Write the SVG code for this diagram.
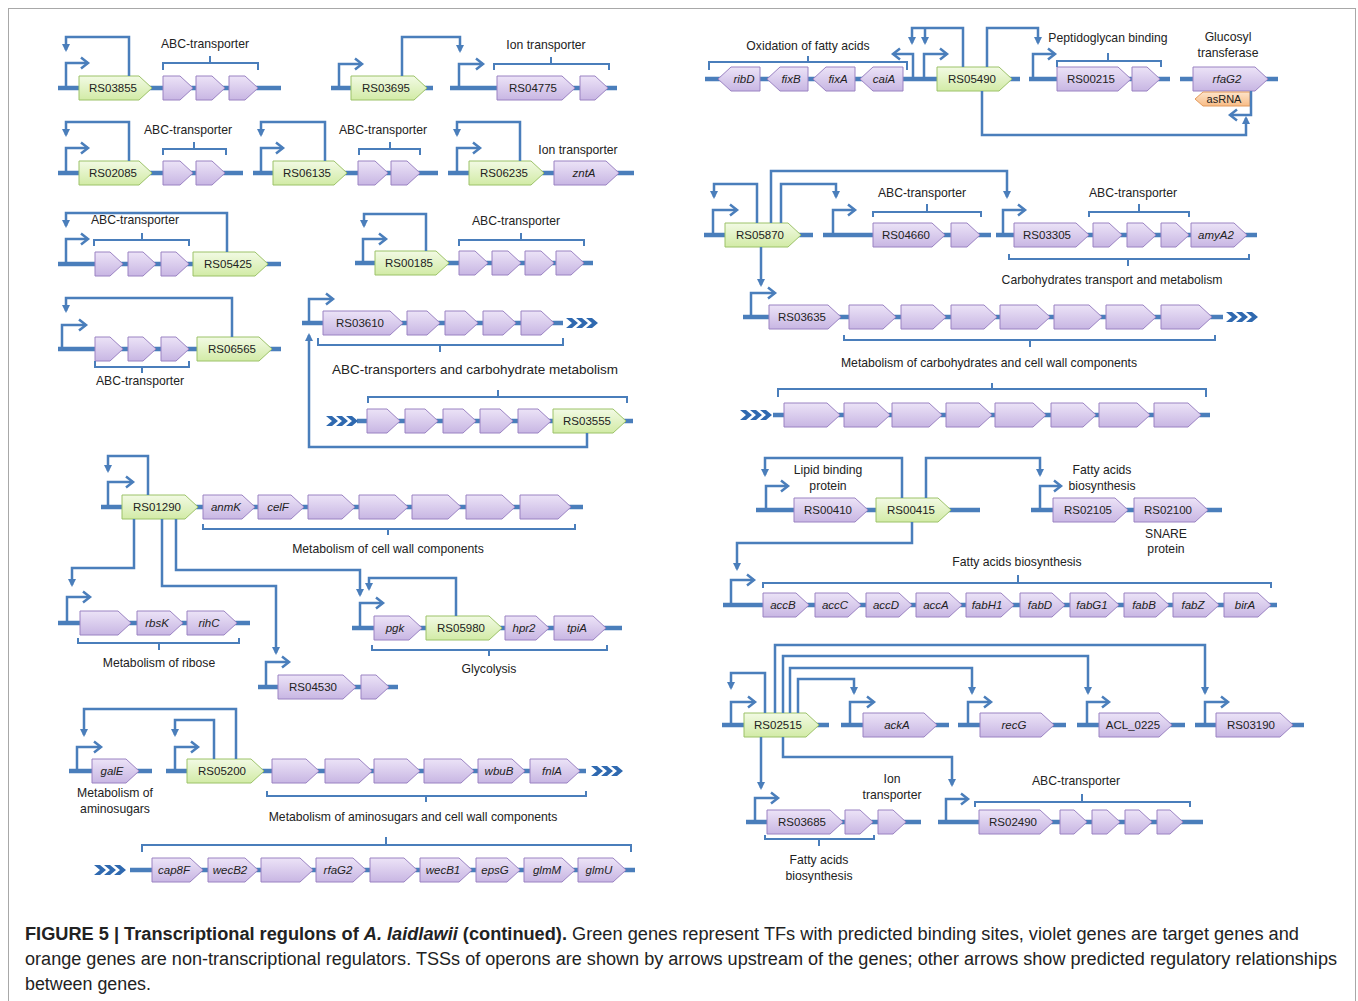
<svg xmlns="http://www.w3.org/2000/svg" width="1358" height="1001" viewBox="0 0 1358 1001">
<defs>
<linearGradient id="gv" x1="0" y1="0" x2="0" y2="1"><stop offset="0" stop-color="#ece3f7"/><stop offset="1" stop-color="#c8b6e3"/></linearGradient>
<linearGradient id="gg" x1="0" y1="0" x2="0" y2="1"><stop offset="0" stop-color="#f2fae4"/><stop offset="1" stop-color="#d2eba6"/></linearGradient>
<linearGradient id="go" x1="0" y1="0" x2="0" y2="1"><stop offset="0" stop-color="#fde4ca"/><stop offset="1" stop-color="#f8bc86"/></linearGradient>
<marker id="tss" markerUnits="userSpaceOnUse" markerWidth="14" markerHeight="14" refX="10" refY="7" orient="auto" overflow="visible"><path d="M3,1.5 L10,7 L3,12.5" fill="none" stroke="#4a7ebb" stroke-width="2.5"/></marker>
<marker id="reg" markerUnits="userSpaceOnUse" markerWidth="10" markerHeight="10" refX="6" refY="4" orient="auto" overflow="visible"><path d="M0,0 L8,4 L0,8 Z" fill="#4a7ebb"/></marker>
<g id="chev"><path d="M0,-5h6l6,5l-6,5h-6l6,-5z M10,-5h6l6,5l-6,5h-6l6,-5z M20,-5h6l6,5l-6,5h-6l6,-5z" fill="#2f69b0"/></g>
</defs>
<style>
.bb{stroke:#4a7ebb;stroke-width:4.5;fill:none}
.ln{stroke:#4a7ebb;stroke-width:2.5;fill:none;marker-end:url(#reg)}
.ts{stroke:#4a7ebb;stroke-width:2.5;fill:none;marker-end:url(#tss)}
.br{stroke:#4a7ebb;stroke-width:2;fill:none}
.v{fill:url(#gv);stroke:#9a82c2;stroke-width:1}
.g{fill:url(#gg);stroke:#9cc268;stroke-width:1}
.o{fill:url(#go);stroke:#e39a5c;stroke-width:1}
text{font-family:"Liberation Sans",Arial,sans-serif;font-size:12.2px;fill:#222;text-anchor:middle}
#genes text{font-size:11.5px}
.i{font-style:italic}
.big{font-size:13.5px}
.cap{font-size:18px;text-anchor:start;fill:#222}
</style>
<rect x="8.5" y="8.5" width="1347" height="1010" fill="#fff" stroke="#a8a8a8" stroke-width="1"/>

<g id="backbones">
<path class="bb" d="M58,88H281 M331,88H433 M450,88H617 M58,173H243 M253,173H438 M448,173H634 M58,264H281 M58,349H281 M355,263H593 M302,323H563 M357,421H633"/>
<path class="bb" d="M705,79H1020 M1029,79H1170 M1180,79H1278 M704,235H813 M823,235H991 M996,235H1257 M743,317H1223 M773,415H1210 M756,510H980 M1031,510H1222 M723,605H1277"/>
<path class="bb" d="M722,725H829 M841,725H949 M958,725H1066 M1077,725H1185 M1195,725H1304 M746,822H921 M938,822H1203"/>
<path class="bb" d="M101,507H583 M58,623H250 M258,687H398 M352,628H622 M69,771H152 M166,771H586 M130,870H635"/>
<use href="#chev" transform="translate(566,323)"/>
<use href="#chev" transform="translate(326,421)"/>
<use href="#chev" transform="translate(1226,317)"/>
<use href="#chev" transform="translate(740,415)"/>
<use href="#chev" transform="translate(591,771)"/>
<use href="#chev" transform="translate(94,870)"/>
</g>

<g id="genes">
<g id="RS03855"><path class="g" d="M79,76h60l13,12l-13,12h-60z"/><text x="113" y="92">RS03855</text></g>
<g id="a1"><path class="v" d="M163,76h17l13,12l-13,12h-17z"/></g>
<g id="a2"><path class="v" d="M196,76h16l13,12l-13,12h-16z"/></g>
<g id="a3"><path class="v" d="M229,76h16l13,12l-13,12h-16z"/></g>

<g id="RS03695"><path class="g" d="M351,76h63l13,12l-13,12h-63z"/><text x="386" y="92">RS03695</text></g>
<g id="RS04775"><path class="v" d="M497,76h65l13,12l-13,12h-65z"/><text x="533" y="92">RS04775</text></g>
<g id="b1"><path class="v" d="M580,76h15l13,12l-13,12h-15z"/></g>

<g id="RS02085"><path class="g" d="M79,161h60l13,12l-13,12h-60z"/><text x="113" y="177">RS02085</text></g>
<g id="c1"><path class="v" d="M163,161h17l13,12l-13,12h-17z"/></g>
<g id="c2"><path class="v" d="M196,161h16l13,12l-13,12h-16z"/></g>

<g id="RS06135"><path class="g" d="M273,161h61l13,12l-13,12h-61z"/><text x="307" y="177">RS06135</text></g>
<g id="d1"><path class="v" d="M358,161h17l13,12l-13,12h-17z"/></g>
<g id="d2"><path class="v" d="M391,161h16l13,12l-13,12h-16z"/></g>

<g id="RS06235"><path class="g" d="M469,161h62l13,12l-13,12h-62z"/><text x="504" y="177">RS06235</text></g>
<g id="zntA"><path class="v" d="M554,161h52l13,12l-13,12h-52z"/><text class="i" x="584" y="177">zntA</text></g>

<g id="f1"><path class="v" d="M95,252h15l13,12l-13,12h-15z"/></g>
<g id="f2"><path class="v" d="M128,252h15l13,12l-13,12h-15z"/></g>
<g id="f3"><path class="v" d="M161,252h15l13,12l-13,12h-15z"/></g>
<g id="RS05425"><path class="g" d="M193,252h62l13,12l-13,12h-62z"/><text x="228" y="268">RS05425</text></g>

<g id="g1"><path class="v" d="M95,337h15l13,12l-13,12h-15z"/></g>
<g id="g2"><path class="v" d="M128,337h15l13,12l-13,12h-15z"/></g>
<g id="g3"><path class="v" d="M161,337h15l13,12l-13,12h-15z"/></g>
<g id="RS06565"><path class="g" d="M197,337h62l13,12l-13,12h-62z"/><text x="232" y="353">RS06565</text></g>

<g id="RS00185"><path class="g" d="M375,251h61l13,12l-13,12h-61z"/><text x="409" y="267">RS00185</text></g>
<g id="h1"><path class="v" d="M459,251h16l13,12l-13,12h-16z"/></g>
<g id="h2"><path class="v" d="M492,251h16l13,12l-13,12h-16z"/></g>
<g id="h3"><path class="v" d="M525,251h16l13,12l-13,12h-16z"/></g>
<g id="h4"><path class="v" d="M556,251h15l13,12l-13,12h-15z"/></g>

<g id="RS03610"><path class="v" d="M323,311h67l13,12l-13,12h-67z"/><text x="360" y="327">RS03610</text></g>
<g id="i1"><path class="v" d="M407,311h20l13,12l-13,12h-20z"/></g>
<g id="i2"><path class="v" d="M445,311h20l13,12l-13,12h-20z"/></g>
<g id="i3"><path class="v" d="M483,311h20l13,12l-13,12h-20z"/></g>
<g id="i4"><path class="v" d="M521,311h20l13,12l-13,12h-20z"/></g>

<g id="j1"><path class="v" d="M367,409h20l13,12l-13,12h-20z"/></g>
<g id="j2"><path class="v" d="M405,409h20l13,12l-13,12h-20z"/></g>
<g id="j3"><path class="v" d="M443,409h20l13,12l-13,12h-20z"/></g>
<g id="j4"><path class="v" d="M480,409h20l13,12l-13,12h-20z"/></g>
<g id="j5"><path class="v" d="M518,409h20l13,12l-13,12h-20z"/></g>
<g id="RS03555"><path class="g" d="M553,409h60l13,12l-13,12h-60z"/><text x="587" y="425">RS03555</text></g>

<g id="ribD"><path class="v" d="M760,67h-29l-13,12l13,12h29z"/><text class="i" x="744" y="83">ribD</text></g>
<g id="fixB"><path class="v" d="M808,67h-28l-13,12l13,12h28z"/><text class="i" x="791" y="83">fixB</text></g>
<g id="fixA"><path class="v" d="M855,67h-29l-13,12l13,12h29z"/><text class="i" x="838" y="83">fixA</text></g>
<g id="caiA"><path class="v" d="M903,67h-30l-13,12l13,12h30z"/><text class="i" x="884" y="83">caiA</text></g>
<g id="RS05490"><path class="g" d="M937,67h62l13,12l-13,12h-62z"/><text x="972" y="83">RS05490</text></g>
<g id="RS00215"><path class="v" d="M1057,67h61l13,12l-13,12h-61z"/><text x="1091" y="83">RS00215</text></g>
<g id="k1"><path class="v" d="M1132,67h15l13,12l-13,12h-15z"/></g>
<g id="rfaG2a"><path class="v" d="M1193,67h62l13,12l-13,12h-62z"/><text class="i" x="1227" y="83">rfaG2</text></g>
<g id="asRNA"><path class="o" d="M1250,92h-47l-8,7l8,7h47z"/><text x="1224" y="103" style="font-size:11px">asRNA</text></g>

<g id="RS05870"><path class="g" d="M725,223h63l13,12l-13,12h-63z"/><text x="760" y="239">RS05870</text></g>
<g id="RS04660"><path class="v" d="M873,223h59l13,12l-13,12h-59z"/><text x="906" y="239">RS04660</text></g>
<g id="l1"><path class="v" d="M951,223h16l13,12l-13,12h-16z"/></g>
<g id="RS03305"><path class="v" d="M1014,223h62l13,12l-13,12h-62z"/><text x="1047" y="239">RS03305</text></g>
<g id="l2"><path class="v" d="M1093,223h16l13,12l-13,12h-16z"/></g>
<g id="l3"><path class="v" d="M1127,223h16l13,12l-13,12h-16z"/></g>
<g id="l4"><path class="v" d="M1161,223h15l13,12l-13,12h-15z"/></g>
<g id="amyA2"><path class="v" d="M1191,223h43l13,12l-13,12h-43z"/><text class="i" x="1216" y="239">amyA2</text></g>

<g id="RS03635"><path class="v" d="M769,305h59l13,12l-13,12h-59z"/><text x="802" y="321">RS03635</text></g>
<g id="m1"><path class="v" d="M849,305h34l13,12l-13,12h-34z"/></g>
<g id="m2"><path class="v" d="M901,305h32l13,12l-13,12h-32z"/></g>
<g id="m3"><path class="v" d="M951,305h33l13,12l-13,12h-33z"/></g>
<g id="m4"><path class="v" d="M1000,305h37l13,12l-13,12h-37z"/></g>
<g id="m5"><path class="v" d="M1054,305h35l13,12l-13,12h-35z"/></g>
<g id="m6"><path class="v" d="M1106,305h37l13,12l-13,12h-37z"/></g>
<g id="m7"><path class="v" d="M1161,305h38l13,12l-13,12h-38z"/></g>

<g id="n1"><path class="v" d="M784,403h43l13,12l-13,12h-43z"/></g>
<g id="n2"><path class="v" d="M844,403h33l13,12l-13,12h-33z"/></g>
<g id="n3"><path class="v" d="M892,403h37l13,12l-13,12h-37z"/></g>
<g id="n4"><path class="v" d="M946,403h33l13,12l-13,12h-33z"/></g>
<g id="n5"><path class="v" d="M995,403h38l13,12l-13,12h-38z"/></g>
<g id="n6"><path class="v" d="M1051,403h32l13,12l-13,12h-32z"/></g>
<g id="n7"><path class="v" d="M1099,403h38l13,12l-13,12h-38z"/></g>
<g id="n8"><path class="v" d="M1154,403h34l13,12l-13,12h-34z"/></g>

<g id="RS00410"><path class="v" d="M794,498h61l13,12l-13,12h-61z"/><text x="828" y="514">RS00410</text></g>
<g id="RS00415"><path class="g" d="M876,498h62l13,12l-13,12h-62z"/><text x="911" y="514">RS00415</text></g>
<g id="RS02105"><path class="v" d="M1053,498h62l13,12l-13,12h-62z"/><text x="1088" y="514">RS02105</text></g>
<g id="RS02100"><path class="v" d="M1134,498h61l13,12l-13,12h-61z"/><text x="1168" y="514">RS02100</text></g>

<g id="accB"><path class="v" d="M763,593h33l13,12l-13,12h-33z"/><text class="i" x="783" y="609">accB</text></g>
<g id="accC"><path class="v" d="M815,593h33l13,12l-13,12h-33z"/><text class="i" x="835" y="609">accC</text></g>
<g id="accD"><path class="v" d="M866,593h33l13,12l-13,12h-33z"/><text class="i" x="886" y="609">accD</text></g>
<g id="accA"><path class="v" d="M916,593h33l13,12l-13,12h-33z"/><text class="i" x="936" y="609">accA</text></g>
<g id="fabH1"><path class="v" d="M966,593h35l13,12l-13,12h-35z"/><text class="i" x="987" y="609">fabH1</text></g>
<g id="fabD"><path class="v" d="M1020,593h32l13,12l-13,12h-32z"/><text class="i" x="1040" y="609">fabD</text></g>
<g id="fabG1"><path class="v" d="M1070,593h36l13,12l-13,12h-36z"/><text class="i" x="1092" y="609">fabG1</text></g>
<g id="fabB"><path class="v" d="M1124,593h32l13,12l-13,12h-32z"/><text class="i" x="1144" y="609">fabB</text></g>
<g id="fabZ"><path class="v" d="M1173,593h33l13,12l-13,12h-33z"/><text class="i" x="1193" y="609">fabZ</text></g>
<g id="birA"><path class="v" d="M1224,593h34l13,12l-13,12h-34z"/><text class="i" x="1245" y="609">birA</text></g>

<g id="RS02515"><path class="g" d="M744,713h62l13,12l-13,12h-62z"/><text x="778" y="729">RS02515</text></g>
<g id="ackA"><path class="v" d="M863,713h61l13,12l-13,12h-61z"/><text class="i" x="897" y="729">ackA</text></g>
<g id="recG"><path class="v" d="M980,713h61l13,12l-13,12h-61z"/><text class="i" x="1014" y="729">recG</text></g>
<g id="ACL_0225"><path class="v" d="M1099,713h60l13,12l-13,12h-60z"/><text x="1133" y="729">ACL_0225</text></g>
<g id="RS03190"><path class="v" d="M1216,713h64l13,12l-13,12h-64z"/><text x="1251" y="729">RS03190</text></g>

<g id="RS03685"><path class="v" d="M767,810h63l13,12l-13,12h-63z"/><text x="802" y="826">RS03685</text></g>
<g id="r1"><path class="v" d="M845,810h15l13,12l-13,12h-15z"/></g>
<g id="r2"><path class="v" d="M878,810h15l13,12l-13,12h-15z"/></g>
<g id="RS02490"><path class="v" d="M979,810h61l13,12l-13,12h-61z"/><text x="1013" y="826">RS02490</text></g>
<g id="s1"><path class="v" d="M1060,810h14l13,12l-13,12h-14z"/></g>
<g id="s2"><path class="v" d="M1092,810h15l13,12l-13,12h-15z"/></g>
<g id="s3"><path class="v" d="M1125,810h14l13,12l-13,12h-14z"/></g>
<g id="s4"><path class="v" d="M1157,810h13l13,12l-13,12h-13z"/></g>

<g id="RS01290"><path class="g" d="M122,495h63l13,12l-13,12h-63z"/><text x="157" y="511">RS01290</text></g>
<g id="anmK"><path class="v" d="M203,495h39l13,12l-13,12h-39z"/><text class="i" x="226" y="511">anmK</text></g>
<g id="celF"><path class="v" d="M258,495h33l13,12l-13,12h-33z"/><text class="i" x="278" y="511">celF</text></g>
<g id="t1"><path class="v" d="M308,495h34l13,12l-13,12h-34z"/></g>
<g id="t2"><path class="v" d="M359,495h36l13,12l-13,12h-36z"/></g>
<g id="t3"><path class="v" d="M412,495h36l13,12l-13,12h-36z"/></g>
<g id="t4"><path class="v" d="M466,495h36l13,12l-13,12h-36z"/></g>
<g id="t5"><path class="v" d="M520,495h38l13,12l-13,12h-38z"/></g>

<g id="u1"><path class="v" d="M80,611h38l13,12l-13,12h-38z"/></g>
<g id="rbsK"><path class="v" d="M137,611h33l13,12l-13,12h-33z"/><text class="i" x="157" y="627">rbsK</text></g>
<g id="rihC"><path class="v" d="M187,611h37l13,12l-13,12h-37z"/><text class="i" x="209" y="627">rihC</text></g>

<g id="RS04530"><path class="v" d="M278,675h65l13,12l-13,12h-65z"/><text x="313" y="691">RS04530</text></g>
<g id="v1"><path class="v" d="M361,675h15l13,12l-13,12h-15z"/></g>

<g id="pgk"><path class="v" d="M374,616h35l13,12l-13,12h-35z"/><text class="i" x="395" y="632">pgk</text></g>
<g id="RS05980"><path class="g" d="M426,616h63l13,12l-13,12h-63z"/><text x="461" y="632">RS05980</text></g>
<g id="hpr2"><path class="v" d="M505,616h31l13,12l-13,12h-31z"/><text class="i" x="524" y="632">hpr2</text></g>
<g id="tpiA"><path class="v" d="M554,616h39l13,12l-13,12h-39z"/><text class="i" x="577" y="632">tpiA</text></g>

<g id="galE"><path class="v" d="M92,759h34l13,12l-13,12h-34z"/><text class="i" x="112" y="775">galE</text></g>
<g id="RS05200"><path class="g" d="M187,759h64l13,12l-13,12h-64z"/><text x="222" y="775">RS05200</text></g>
<g id="y1"><path class="v" d="M272,759h34l13,12l-13,12h-34z"/></g>
<g id="y2"><path class="v" d="M325,759h34l13,12l-13,12h-34z"/></g>
<g id="y3"><path class="v" d="M374,759h33l13,12l-13,12h-33z"/></g>
<g id="y4"><path class="v" d="M424,759h37l13,12l-13,12h-37z"/></g>
<g id="wbuB"><path class="v" d="M478,759h34l13,12l-13,12h-34z"/><text class="i" x="499" y="775">wbuB</text></g>
<g id="fnlA"><path class="v" d="M530,759h37l13,12l-13,12h-37z"/><text class="i" x="552" y="775">fnlA</text></g>

<g id="cap8F"><path class="v" d="M152,858h38l13,12l-13,12h-38z"/><text class="i" x="174" y="874">cap8F</text></g>
<g id="wecB2"><path class="v" d="M208,858h37l13,12l-13,12h-37z"/><text class="i" x="230" y="874">wecB2</text></g>
<g id="z1"><path class="v" d="M261,858h39l13,12l-13,12h-39z"/></g>
<g id="rfaG2b"><path class="v" d="M316,858h37l13,12l-13,12h-37z"/><text class="i" x="338" y="874">rfaG2</text></g>
<g id="z2"><path class="v" d="M370,858h34l13,12l-13,12h-34z"/></g>
<g id="wecB1"><path class="v" d="M420,858h39l13,12l-13,12h-39z"/><text class="i" x="443" y="874">wecB1</text></g>
<g id="epsG"><path class="v" d="M476,858h31l13,12l-13,12h-31z"/><text class="i" x="495" y="874">epsG</text></g>
<g id="glmM"><path class="v" d="M524,858h38l13,12l-13,12h-38z"/><text class="i" x="547" y="874">glmM</text></g>
<g id="glmU"><path class="v" d="M578,858h35l13,12l-13,12h-35z"/><text class="i" x="599" y="874">glmU</text></g>
</g>

<g id="connectors">
<path class="ts" d="M66,88V63H88"/>
<path class="ln" d="M129,76V37H66V50"/>
<path class="ts" d="M339,88V64H362"/>
<path class="ln" d="M402,76V37H460V51"/>
<path class="ts" d="M459,88V64H483"/>
<path class="ts" d="M66,173V148H88"/>
<path class="ln" d="M129,161V122H66V135"/>
<path class="ts" d="M261,173V148H283"/>
<path class="ln" d="M325,161V122H261V135"/>
<path class="ts" d="M457,173V148H480"/>
<path class="ln" d="M520,161V122H457V135"/>
<path class="ts" d="M66,264V239H88"/>
<path class="ln" d="M227,252V213H66V226"/>
<path class="ts" d="M62,349V325H86"/>
<path class="ln" d="M232,337V298H66V311"/>
<path class="ts" d="M363,263V239H386"/>
<path class="ln" d="M426,251V214H364V226"/>
<path class="ts" d="M309,323V299H333"/>
<path class="ln" d="M587,433V447H309V335"/>

<path class="ts" d="M913,79V54H893"/>
<path class="ts" d="M924,79V54H947"/>
<path class="ln" d="M963,67V28H912V43"/>
<path class="ln" d="M925,28V43"/>
<path class="ln" d="M987,67V28H1038V43"/>
<path class="ln" d="M982,91V135H1246V118"/>
<path class="ts" d="M1033,79V54H1055"/>
<path class="ts" d="M1251,91V115H1230"/>

<path class="ts" d="M713,235V210H737"/>
<path class="ln" d="M757,223V184H714V197"/>
<path class="ln" d="M771,223V171H1007V197"/>
<path class="ln" d="M781,223V184H836V197"/>
<path class="ln" d="M761,247V285"/>
<path class="ts" d="M833,235V210H855"/>
<path class="ts" d="M1003,235V210H1025"/>
<path class="ts" d="M751,317V293H775"/>

<path class="ts" d="M766,510V486H788"/>
<path class="ln" d="M902,498V458H765V475"/>
<path class="ln" d="M926,498V458H1040V475"/>
<path class="ln" d="M912,522V543H737V569"/>
<path class="ts" d="M1040,510V486H1061"/>
<path class="ts" d="M731,605V580H754"/>

<path class="ts" d="M731,725V702H755"/>
<path class="ln" d="M765,713V673H731V688"/>
<path class="ln" d="M775,713V645H1205V693"/>
<path class="ln" d="M783,713V656H1088V693"/>
<path class="ln" d="M790,713V668H972V693"/>
<path class="ln" d="M798,713V679H854V693"/>
<path class="ln" d="M761,737V788"/>
<path class="ln" d="M783,737V757H952V785"/>
<path class="ts" d="M850,725V702H874"/>
<path class="ts" d="M968,725V702H991"/>
<path class="ts" d="M1087,725V702H1109"/>
<path class="ts" d="M1205,725V702H1228"/>
<path class="ts" d="M755,822V798H778"/>
<path class="ts" d="M946,822V799H968"/>

<path class="ts" d="M108,507V482H133"/>
<path class="ln" d="M148,495V456H108V471"/>
<path class="ln" d="M134,519V568H72V585"/>
<path class="ln" d="M162,519V586H276V653"/>
<path class="ln" d="M176,519V570H360V595"/>
<path class="ts" d="M67,623V597H90"/>
<path class="ts" d="M266,687V662H289"/>
<path class="ts" d="M360,628V603H383"/>
<path class="ln" d="M456,616V578H369V589"/>
<path class="ts" d="M77,771V747H101"/>
<path class="ts" d="M175,771V747H198"/>
<path class="ln" d="M214,759V720H175V735"/>
<path class="ln" d="M236,759V709H84V735"/>
</g>

<g id="brackets">
<path class="br" d="M163,70V63H258V70M210,63V56"/>
<text x="205" y="48">ABC-transporter</text>
<path class="br" d="M494,70V64H609V70M551,64V57"/>
<text x="546" y="49">Ion transporter</text>
<path class="br" d="M163,155V149H226V155M194,149V142"/>
<text x="188" y="134">ABC-transporter</text>
<path class="br" d="M359,155V149H420V155M390,149V142"/>
<text x="383" y="134">ABC-transporter</text>
<text x="578" y="154">Ion transporter</text>
<path class="br" d="M94,246V240H189V246M142,240V233"/>
<text x="135" y="224">ABC-transporter</text>
<path class="br" d="M95,361V367H189V361M142,367V373"/>
<text x="140" y="385">ABC-transporter</text>
<path class="br" d="M459,246V240H584V246M521,240V233"/>
<text x="516" y="225">ABC-transporter</text>
<path class="br" d="M318,338V345H563V338M440,345V352"/>
<text class="big" x="475" y="374">ABC-transporters and carbohydrate metabolism</text>
<path class="br" d="M368,403V397H627V403M498,397V390"/>

<path class="br" d="M709,70V62H907V70M808,62V56"/>
<text x="808" y="50">Oxidation of fatty acids</text>
<path class="br" d="M1057,67V61H1161V67M1108,61V53"/>
<text x="1108" y="42">Peptidoglycan binding</text>
<text x="1228" y="41">Glucosyl</text>
<text x="1228" y="57">transferase</text>

<path class="br" d="M873,217V212H981V217M927,212V204"/>
<text x="922" y="197">ABC-transporter</text>
<path class="br" d="M1089,217V212H1189V217M1139,212V204"/>
<text x="1133" y="197">ABC-transporter</text>
<path class="br" d="M1009,254V259H1249V254M1128,259V266"/>
<text x="1112" y="284">Carbohydrates transport and metabolism</text>
<path class="br" d="M844,335V340H1215V335M1030,340V347"/>
<text x="989" y="367">Metabolism of carbohydrates and cell wall components</text>
<path class="br" d="M778,397V389H1206V397M992,389V383"/>

<text x="828" y="474">Lipid binding</text>
<text x="828" y="490">protein</text>
<text x="1102" y="474">Fatty acids</text>
<text x="1102" y="490">biosynthesis</text>
<text x="1166" y="538">SNARE</text>
<text x="1166" y="553">protein</text>
<path class="br" d="M763,588V583H1271V588M1018,583V575"/>
<text x="1017" y="566">Fatty acids biosynthesis</text>

<text x="892" y="783">Ion</text>
<text x="892" y="799">transporter</text>
<path class="br" d="M765,835V839H874V835M819,839V846"/>
<text x="819" y="864">Fatty acids</text>
<text x="819" y="880">biosynthesis</text>
<path class="br" d="M975,807V802H1190V807M1082,802V794"/>
<text x="1076" y="785">ABC-transporter</text>

<path class="br" d="M203,524V529H575V524M388,529V535"/>
<text x="388" y="553">Metabolism of cell wall components</text>
<path class="br" d="M78,638V643H239V638M159,643V650"/>
<text x="159" y="667">Metabolism of ribose</text>
<path class="br" d="M372,645V650H607V645M489,650V656"/>
<text x="489" y="673">Glycolysis</text>
<text x="115" y="797">Metabolism of</text>
<text x="115" y="813">aminosugars</text>
<path class="br" d="M267,791V796H586V791M426,796V802"/>
<text x="413" y="821">Metabolism of aminosugars and cell wall components</text>
<path class="br" d="M142,852V845H631V852M386,845V837"/>
</g>

<g id="caption">
<text class="cap" x="25" y="940" textLength="1274" lengthAdjust="spacingAndGlyphs"><tspan font-weight="bold">FIGURE 5 | Transcriptional regulons of <tspan font-style="italic">A. laidlawii</tspan> (continued).</tspan> Green genes represent TFs with predicted binding sites, violet genes are target genes and</text>
<text class="cap" x="25" y="965" textLength="1312" lengthAdjust="spacingAndGlyphs">orange genes are non-transcriptional regulators. TSSs of operons are shown by arrows upstream of the genes; other arrows show predicted regulatory relationships</text>
<text class="cap" x="25" y="990" textLength="126" lengthAdjust="spacingAndGlyphs">between genes.</text>
</g>
</svg>
